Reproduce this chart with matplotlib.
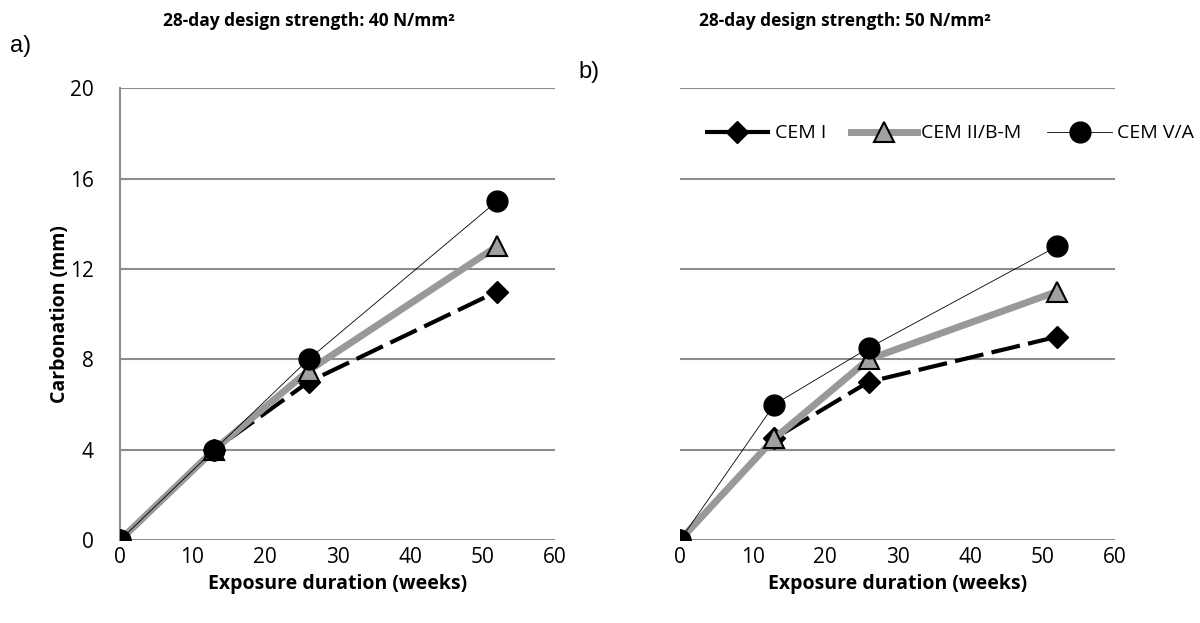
import matplotlib.pyplot as plt

plt.rcParams['font.family'] = ['Open Sans', 'DejaVu Sans']

weeks = [0, 13, 26, 52]

# panel a) 40 N/mm2
a_cem1 = [0, 4, 7, 11]
a_cem2 = [0, 4, 7.5, 13]
a_cem5 = [0, 4, 8, 15]

# panel b) 50 N/mm2
b_cem1 = [0, 4.5, 7, 9]
b_cem2 = [0, 4.5, 8, 11]
b_cem5 = [0, 6, 8.5, 13]

series_names = ['CEM I', 'CEM II/B-M', 'CEM V/A']
titles = ['28-day design strength: 40 N/mm²', '28-day design strength: 50 N/mm²']
panel_tags = ['a)', 'b)']


def draw(ax, c1, c2, c5):
    ax.plot(weeks, c1, color='black', lw=3, dashes=(7, 2), marker='D',
            ms=11, mfc='black', mec='black', zorder=3, label=series_names[0])
    ax.plot(weeks, c2, color='#999999', lw=5, marker='^', ms=14,
            mfc='#a0a0a0', mec='black', mew=1.5, zorder=4, label=series_names[1])
    # light speckle on the wide grey line
    ax.plot(weeks, c2, color='#cfcfcf', lw=1.2, dashes=(0.8, 1.2), zorder=3.5)
    ax.plot(weeks, c5, color='black', lw=0.6, marker='o', ms=15,
            mfc='black', mec='black', zorder=5, label=series_names[2])
    ax.set_xlim(0, 60)
    ax.set_ylim(0, 20)
    ax.set_xticks(range(0, 61, 10))
    ax.set_yticks(range(0, 21, 4))
    ax.grid(axis='y', color='#8c8c8c', lw=1.5)
    ax.set_axisbelow(True)
    for s in ['top', 'right', 'bottom', 'left']:
        ax.spines[s].set_visible(False)
    ax.tick_params(axis='x', length=0, labelsize=15, pad=5)
    ax.tick_params(axis='y', length=0, labelsize=15, pad=19)
    ax.set_xlabel('Exposure duration (weeks)', fontsize=14, fontweight='bold', labelpad=4)


fig = plt.figure(figsize=(12, 6.23), dpi=100)
ax1 = fig.add_axes([0.1, 0.133, 0.3625, 0.7255])
ax2 = fig.add_axes([0.5667, 0.133, 0.3625, 0.7255])

draw(ax1, a_cem1, a_cem2, a_cem5)
draw(ax2, b_cem1, b_cem2, b_cem5)

ax1.spines['left'].set_visible(True)
ax1.spines['left'].set_color('#8c8c8c')
ax1.spines['left'].set_linewidth(1.5)
ax1.set_ylabel('Carbonation (mm)', fontsize=14, fontweight='bold', labelpad=0)
ax2.tick_params(axis='y', labelleft=False)

ax2.legend(loc='center left', bbox_to_anchor=(0.039, 0.90), ncol=3, frameon=False,
           fontsize=14, handlelength=3.35, columnspacing=1.3, handletextpad=0.25,
           borderaxespad=0)

fig.text(0.2575, 0.967, titles[0], ha='center', va='center', fontsize=12.5, fontweight='bold')
fig.text(0.704, 0.967, titles[1], ha='center', va='center', fontsize=12.5, fontweight='bold')
fig.text(0.008, 0.926, panel_tags[0], ha='left', va='center', fontsize=17,
         family='Liberation Sans')
fig.text(0.482, 0.884, panel_tags[1], ha='left', va='center', fontsize=17,
         family='Liberation Sans')

fig.savefig('out.png', dpi=100)
